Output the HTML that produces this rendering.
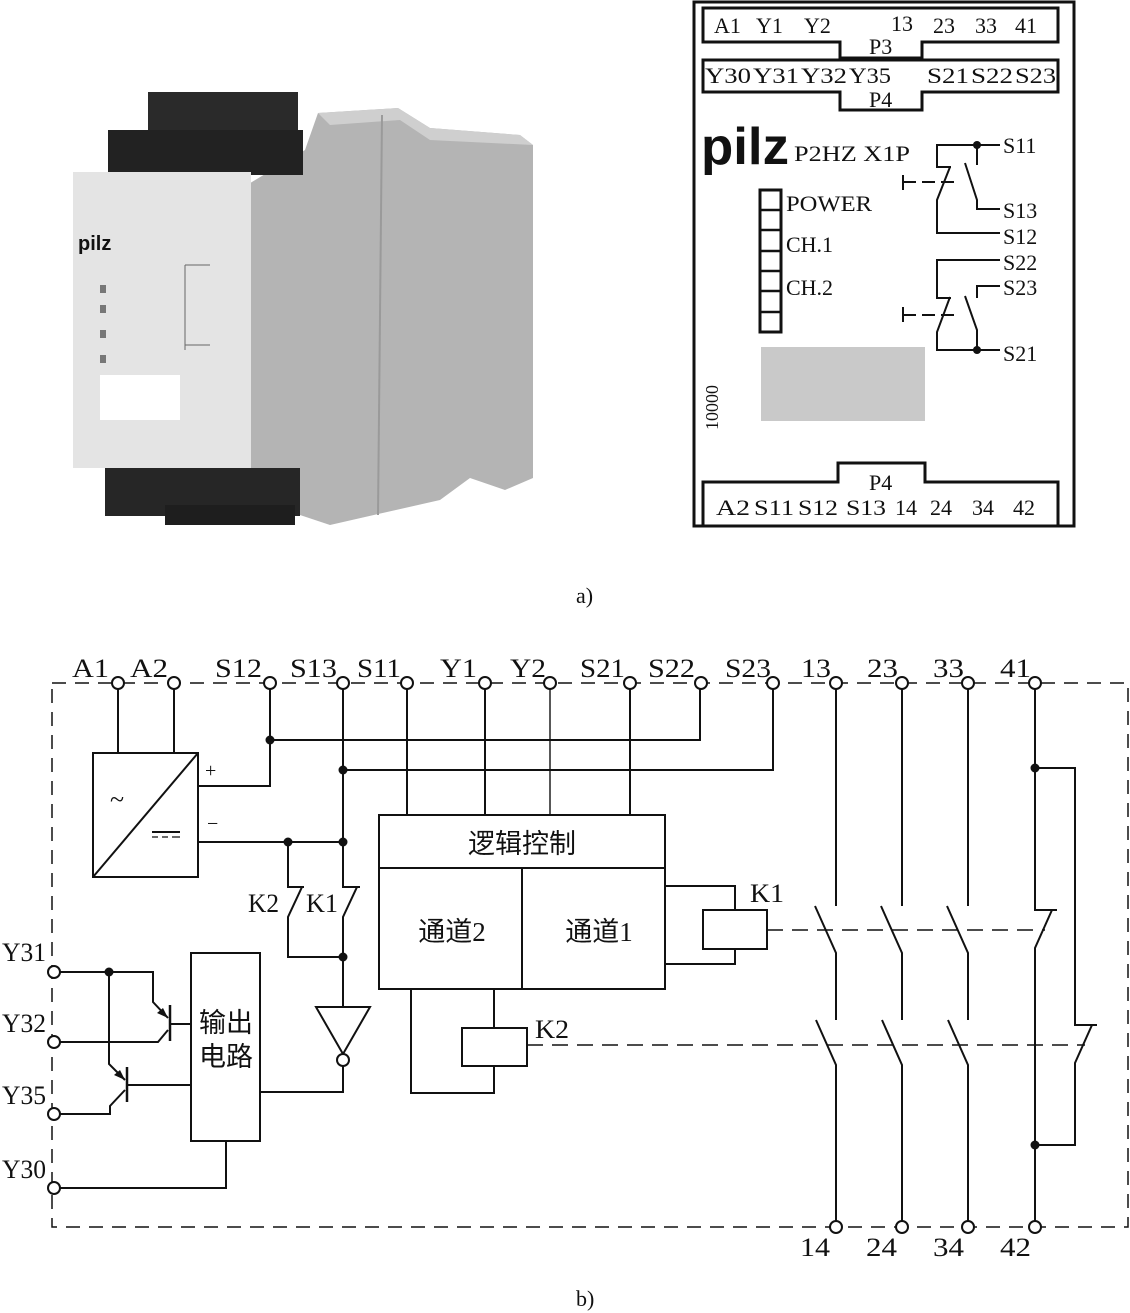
<!DOCTYPE html>
<html><head><meta charset="utf-8"><style>
html,body{margin:0;padding:0;background:#fff;}
svg{display:block;}
text{font-family:"Liberation Serif","Noto Serif CJK SC",serif;fill:#111;}
text.cj{font-family:"Liberation Serif","Noto Sans CJK SC",sans-serif;}
text.logo{font-family:"Liberation Sans",sans-serif;font-weight:bold;}
</style></head><body>
<svg width="1130" height="1313" viewBox="0 0 1130 1313" xmlns="http://www.w3.org/2000/svg">
<!-- photo -->
<g>
<polygon points="247,185 305,150 318,113 398,108 430,128 520,135 533,145 533,478 505,490 470,478 440,500 330,525 300,515 247,470" fill="#b4b4b4"/>
<polygon points="318,113 398,108 430,128 520,135 533,145 430,140 400,120 330,125" fill="#cfcfcf"/>
<line x1="382" y1="115" x2="378" y2="515" stroke="#9a9a9a" stroke-width="2"/>
<rect x="148" y="92" width="150" height="40" fill="#2a2a2a"/>
<rect x="108" y="130" width="195" height="45" fill="#222"/>
<rect x="73" y="172" width="178" height="296" fill="#e4e4e4"/>
<rect x="100" y="375" width="80" height="45" fill="#fff"/>
<text x="78" y="250" class="logo" font-size="20">pilz</text>
<g fill="#777"><rect x="100" y="285" width="6" height="8"/><rect x="100" y="305" width="6" height="8"/><rect x="100" y="330" width="6" height="8"/><rect x="100" y="355" width="6" height="8"/></g>
<rect x="105" y="468" width="195" height="48" fill="#262626"/>
<rect x="165" y="505" width="130" height="20" fill="#1e1e1e"/>
<path d="M185,265 V350 M185,265 H210 M185,345 H210" stroke="#666" fill="none"/>
</g>
<!-- right panel -->
<g fill="none" stroke="#111" stroke-width="3">
<rect x="694" y="2" width="380" height="524"/>
<path d="M703,8 H1058 V42 H922 V58 H840 V42 H703 Z"/>
<path d="M703,60 H1058 V92 H922 V110 H840 V92 H703 Z"/>
<path d="M703,527 V482 H838 V463 H925 V482 H1058 V527"/>
<rect x="760" y="190" width="21" height="142"/>
<path d="M760,210 H781 M760,230 H781 M760,251 H781 M760,271 H781 M760,291 H781 M760,312 H781" stroke-width="2.5"/>
</g>
<rect x="761" y="347" width="164" height="74" fill="#c9c9c9"/>
<g font-size="22">
<text x="714" y="33">A1</text><text x="756" y="33">Y1</text><text x="804" y="33">Y2</text>
<text x="891" y="31">13</text><text x="933" y="33">23</text><text x="975" y="33">33</text><text x="1015" y="33">41</text>
<text x="869" y="54">P3</text>
<text x="705" y="83" textLength="46" lengthAdjust="spacingAndGlyphs">Y30</text><text x="753" y="83" textLength="46" lengthAdjust="spacingAndGlyphs">Y31</text>
<text x="801" y="83" textLength="46" lengthAdjust="spacingAndGlyphs">Y32</text><text x="849" y="83" textLength="42" lengthAdjust="spacingAndGlyphs">Y35</text>
<text x="927" y="83" textLength="42" lengthAdjust="spacingAndGlyphs">S21</text><text x="971" y="83" textLength="42" lengthAdjust="spacingAndGlyphs">S22</text><text x="1015" y="83" textLength="41" lengthAdjust="spacingAndGlyphs">S23</text>
<text x="869" y="107">P4</text>
<text x="869" y="490">P4</text>
<text x="716" y="515" textLength="34" lengthAdjust="spacingAndGlyphs">A2</text><text x="754" y="515" textLength="40" lengthAdjust="spacingAndGlyphs">S11</text>
<text x="798" y="515" textLength="40" lengthAdjust="spacingAndGlyphs">S12</text><text x="846" y="515" textLength="40" lengthAdjust="spacingAndGlyphs">S13</text>
<text x="895" y="515">14</text><text x="930" y="515">24</text><text x="972" y="515">34</text><text x="1013" y="515">42</text>
<text x="794" y="161" textLength="116" lengthAdjust="spacingAndGlyphs">P2HZ  X1P</text>
<text x="786" y="211" textLength="86" lengthAdjust="spacingAndGlyphs">POWER</text>
<text x="786" y="252">CH.1</text>
<text x="786" y="295">CH.2</text>
<text x="1003" y="153">S11</text>
<text x="1003" y="218">S13</text>
<text x="1003" y="244">S12</text>
<text x="1003" y="270">S22</text>
<text x="1003" y="295">S23</text>
<text x="1003" y="361">S21</text>
<text x="0" y="0" transform="translate(718,430) rotate(-90)" font-size="18">10000</text>
</g>
<text x="701" y="164" class="logo" font-size="52" textLength="88" lengthAdjust="spacingAndGlyphs">pilz</text>
<g fill="none" stroke="#111" stroke-width="2">
<path d="M1000,145 H937 V167 H951 M950,167 L937,200 V233 H1000"/>
<path d="M977,145 V165 M965,163 L977,200 V209 H1000"/>
<path d="M903,175 V190 M903,182 H916 M922,182 H935 M941,182 H954"/>
<path d="M1000,260 H937 V298 H951 M950,297 L937,332 V350 H1000"/>
<path d="M1000,286 H977 V298 M965,296 L977,330 V350"/>
<path d="M903,307 V322 M903,315 H916 M922,315 H935 M941,315 H954"/>
</g>
<circle cx="977" cy="145" r="4" fill="#111"/>
<circle cx="977" cy="350" r="4" fill="#111"/>
<text x="576" y="603" font-size="22">a)</text>
<text x="576" y="1306" font-size="22">b)</text>

<!-- schematic b -->
<g fill="none" stroke="#111" stroke-width="1.5" stroke-dasharray="14,9">
<path d="M52,683 H1128 V1227 H52 Z"/>
</g>
<g fill="none" stroke="#111" stroke-width="2">
<rect x="93" y="753" width="105" height="124"/>
<path d="M93,877 L198,753"/>
<path d="M118,683 V753 M174,683 V753"/>
<path d="M152,832 H180"/>
<path d="M152,837 H158 M162,837 H168 M172,837 H180" stroke-width="1.3"/>
<path d="M198,786 H270 V683"/>
<path d="M270,740 H700 V683"/>
<path d="M343,683 V887 H360 M357,887 L343,917 V1007"/>
<path d="M343,770 H773 V683"/>
<path d="M198,842 H343"/>
<path d="M288,842 V887 H304 M302,887 L288,917 V957 H343"/>
<path d="M316,1007 H370 L343,1054 Z"/>
<circle cx="343" cy="1060" r="6" fill="#fff"/>
<path d="M343,1066 V1092 H260"/>
<rect x="191" y="953" width="69" height="188"/>
<path d="M226,1141 V1188 H60"/>
<path d="M60,972 H153 V1002 L168,1018"/>
<path d="M170,1005 V1041" stroke-width="2.5"/>
<path d="M170,1024 H191"/>
<path d="M168,1030 L158,1042 H60"/>
<path d="M109,972 V1064 L125,1080"/>
<path d="M127,1067 V1102" stroke-width="2.5"/>
<path d="M127,1085 H191"/>
<path d="M125,1090 L110,1106 V1114 H60"/>
<rect x="379" y="815" width="286" height="174"/>
<path d="M379,868 H665 M522,868 V989"/>
<path d="M407,683 V815 M485,683 V815 M630,683 V815"/>
<path d="M550,683 V815" stroke-width="1.4"/>
<path d="M411,989 V1093 H494 V1066 M494,989 V1028"/>
<rect x="462" y="1028" width="65" height="38"/>
<path d="M665,886 H735 V910 M735,949 V964 H665"/>
<rect x="703" y="910" width="64" height="39"/>
<path d="M836,683 V906 M815,906 L836,953 V1020 M816,1020 L836,1065 V1221"/>
<path d="M902,683 V906 M881,906 L902,953 V1020 M882,1020 L902,1065 V1221"/>
<path d="M968,683 V906 M947,906 L968,953 V1020 M948,1020 L968,1065 V1221"/>
<path d="M1035,689 V910 H1057 M1052,910 L1035,948 V1221"/>
<path d="M1035,768 H1075 V1025 H1097 M1092,1025 L1075,1063 V1145 H1035"/>
</g>
<g fill="none" stroke="#111" stroke-width="1.6" stroke-dasharray="16,9">
<path d="M767,930 H1045"/>
<path d="M527,1045 H1085"/>
</g>
<polygon points="168,1018 157,1013 163,1008" fill="#111"/>
<polygon points="125,1080 114,1075 120,1070" fill="#111"/>
<g fill="#111">
<circle cx="270" cy="740" r="4.5"/><circle cx="343" cy="770" r="4.5"/>
<circle cx="288" cy="842" r="4.5"/><circle cx="343" cy="842" r="4.5"/>
<circle cx="343" cy="957" r="4.5"/><circle cx="109" cy="972" r="4.5"/>
<circle cx="1035" cy="768" r="4.5"/><circle cx="1035" cy="1145" r="4.5"/>
</g>
<g fill="#fff" stroke="#111" stroke-width="2">
<circle cx="118" cy="683" r="6"/><circle cx="174" cy="683" r="6"/><circle cx="270" cy="683" r="6"/>
<circle cx="343" cy="683" r="6"/><circle cx="407" cy="683" r="6"/><circle cx="485" cy="683" r="6"/>
<circle cx="550" cy="683" r="6"/><circle cx="630" cy="683" r="6"/><circle cx="701" cy="683" r="6"/>
<circle cx="773" cy="683" r="6"/><circle cx="836" cy="683" r="6"/><circle cx="902" cy="683" r="6"/>
<circle cx="968" cy="683" r="6"/><circle cx="1035" cy="683" r="6"/>
<circle cx="836" cy="1227" r="6"/><circle cx="902" cy="1227" r="6"/><circle cx="968" cy="1227" r="6"/><circle cx="1035" cy="1227" r="6"/>
<circle cx="54" cy="972" r="6"/><circle cx="54" cy="1042" r="6"/><circle cx="54" cy="1114" r="6"/><circle cx="54" cy="1188" r="6"/>
</g>
<g font-size="26" lengthAdjust="spacingAndGlyphs">
<text x="72" y="677" textLength="37" lengthAdjust="spacingAndGlyphs">A1</text><text x="130" y="677" textLength="38" lengthAdjust="spacingAndGlyphs">A2</text>
<text x="215" y="677" textLength="47" lengthAdjust="spacingAndGlyphs">S12</text><text x="290" y="677" textLength="47" lengthAdjust="spacingAndGlyphs">S13</text>
<text x="357" y="677" textLength="44" lengthAdjust="spacingAndGlyphs">S11</text><text x="440" y="677" textLength="37" lengthAdjust="spacingAndGlyphs">Y1</text>
<text x="510" y="677" textLength="36" lengthAdjust="spacingAndGlyphs">Y2</text><text x="580" y="677" textLength="45" lengthAdjust="spacingAndGlyphs">S21</text>
<text x="648" y="677" textLength="47" lengthAdjust="spacingAndGlyphs">S22</text><text x="725" y="677" textLength="46" lengthAdjust="spacingAndGlyphs">S23</text>
<text x="801" y="677" textLength="30" lengthAdjust="spacingAndGlyphs">13</text><text x="867" y="677" textLength="31" lengthAdjust="spacingAndGlyphs">23</text>
<text x="933" y="677" textLength="31" lengthAdjust="spacingAndGlyphs">33</text><text x="1000" y="677" textLength="31" lengthAdjust="spacingAndGlyphs">41</text>
<text x="800" y="1256" textLength="30" lengthAdjust="spacingAndGlyphs">14</text><text x="866" y="1256" textLength="31" lengthAdjust="spacingAndGlyphs">24</text>
<text x="933" y="1256" textLength="31" lengthAdjust="spacingAndGlyphs">34</text><text x="1000" y="1256" textLength="31" lengthAdjust="spacingAndGlyphs">42</text>
<text x="2" y="961" textLength="44" lengthAdjust="spacingAndGlyphs">Y31</text><text x="2" y="1032" textLength="44" lengthAdjust="spacingAndGlyphs">Y32</text>
<text x="2" y="1104" textLength="44" lengthAdjust="spacingAndGlyphs">Y35</text><text x="2" y="1178" textLength="44" lengthAdjust="spacingAndGlyphs">Y30</text>
<text x="248" y="912" textLength="31" lengthAdjust="spacingAndGlyphs">K2</text><text x="306" y="912" textLength="32" lengthAdjust="spacingAndGlyphs">K1</text>
<text x="750" y="902" textLength="34" lengthAdjust="spacingAndGlyphs">K1</text><text x="535" y="1038" textLength="34" lengthAdjust="spacingAndGlyphs">K2</text>
<text x="205" y="777" font-size="20">+</text><text x="207" y="830" font-size="20">−</text>
<text x="110" y="808" font-size="26">~</text>
</g>
<g font-size="27" text-anchor="middle">
<text x="522" y="853" class="cj">逻辑控制</text>
<text x="452" y="941" class="cj">通道2</text>
<text x="599" y="941" class="cj">通道1</text>
<text x="226" y="1032" class="cj">输出</text>
<text x="226" y="1066" class="cj">电路</text>
</g>
</svg>
</body></html>
